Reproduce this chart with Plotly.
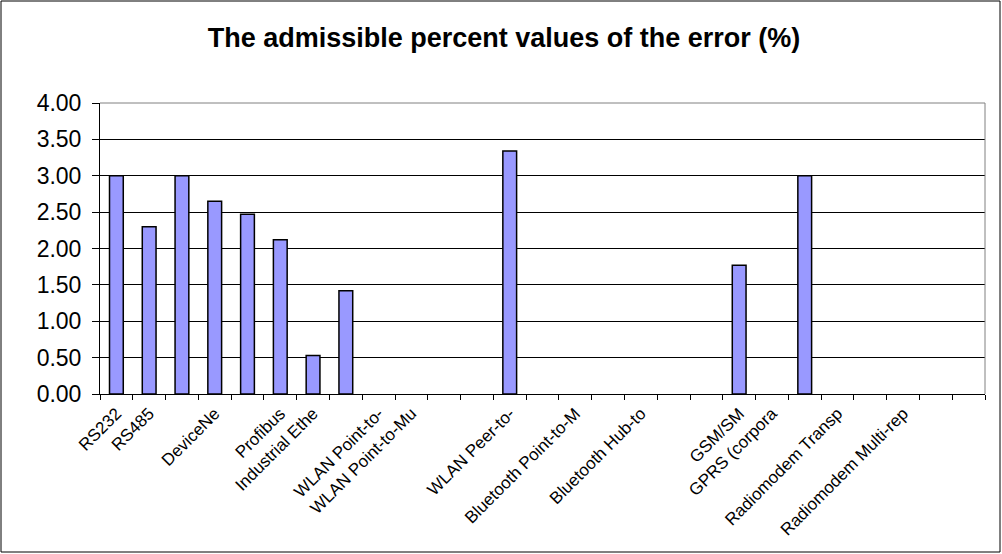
import plotly.graph_objects as go

# ---- data ----
categories = list(range(1, 28))  # 27 category slots
values = [3.00, 2.30, 3.00, 2.65, 2.47, 2.12, 0.53, 1.42,
          None, None, None, None, 3.34, None, None, None,
          None, None, None, 1.77, None, 3.00, None, None,
          None, None, None]
label_positions = [1, 2, 4, 6, 7, 9, 10, 13, 15, 17, 20, 21, 23, 25]
label_texts = ["RS232", "RS485", "DeviceNe", "Profibus", "Industrial Ethe",
               "WLAN Point-to-", "WLAN Point-to-Mu", "WLAN Peer-to-",
               "Bluetooth Point-to-M", "Bluetooth Hub-to", "GSM/SM",
               "GPRS (corpora", "Radiomodem Transp", "Radiomodem Multi-rep"]
y_ticks = [0, 0.5, 1.0, 1.5, 2.0, 2.5, 3.0, 3.5, 4.0]
title_text = "The admissible percent values of the error (%)"

W, H = 1002, 554
ML, MR, MT, MB = 100, 17, 103, 160
PW, PH = W - ML - MR, H - MT - MB

fig = go.Figure()
fig.add_trace(go.Bar(
    x=categories, y=values,
    marker=dict(color="#9999FF", line=dict(color="black", width=1.5)),
    width=0.42,
))

boundaries = [c - 0.5 for c in categories] + [categories[-1] + 0.5]

fig.update_layout(
    width=W, height=H,
    margin=dict(l=ML, r=MR, t=MT, b=MB, autoexpand=False),
    paper_bgcolor="white", plot_bgcolor="white",
    showlegend=False,
    title=dict(text="<b>" + title_text + "</b>", x=0.503, xanchor="center",
               y=1 - 38 / H, yanchor="middle",
               font=dict(family="Liberation Sans, Arial", size=27, color="black")),
    xaxis=dict(
        automargin=False,
        range=[0.5, 27.5], tickmode="array", tickvals=label_positions,
        ticktext=label_texts, tickangle=-45,
        ticks="outside", ticklen=2, tickcolor="rgba(0,0,0,0)",
        tickfont=dict(family="Liberation Sans, Arial", size=17, color="black"),
        showgrid=False, zeroline=False, showline=True, linecolor="black", linewidth=1,
        minor=dict(tickmode="array", tickvals=boundaries, ticks="outside",
                   ticklen=5, tickcolor="black", tickwidth=1, showgrid=False),
        fixedrange=True,
    ),
    yaxis=dict(
        automargin=False,
        range=[0, 4], tickmode="array", tickvals=y_ticks, tickformat=".2f",
        ticks="outside", ticklen=7, tickcolor="black",
        ticklabelstandoff=6,
        tickfont=dict(family="Liberation Sans, Arial", size=23, color="black"),
        showgrid=True, gridcolor="black", gridwidth=1,
        zeroline=False, showline=True, linecolor="black", linewidth=1,
        fixedrange=True,
    ),
    shapes=[
        # plot-area top and right border (grey)
        dict(type="line", xref="paper", yref="paper", x0=0, x1=1, y0=1, y1=1,
             line=dict(color="#808080", width=1), layer="above"),
        dict(type="line", xref="paper", yref="paper", x0=1, x1=1, y0=0, y1=1,
             line=dict(color="#808080", width=1), layer="above"),
        # outer chart border
        dict(type="rect", xref="paper", yref="paper",
             x0=(1 - ML) / PW, x1=(W - 2 - ML) / PW,
             y0=-(H - 2 - MT - PH) / PH, y1=1 + (MT - 1) / PH,
             line=dict(color="black", width=1), fillcolor="rgba(0,0,0,0)"),
    ],
)

fig.write_html("out.html")
